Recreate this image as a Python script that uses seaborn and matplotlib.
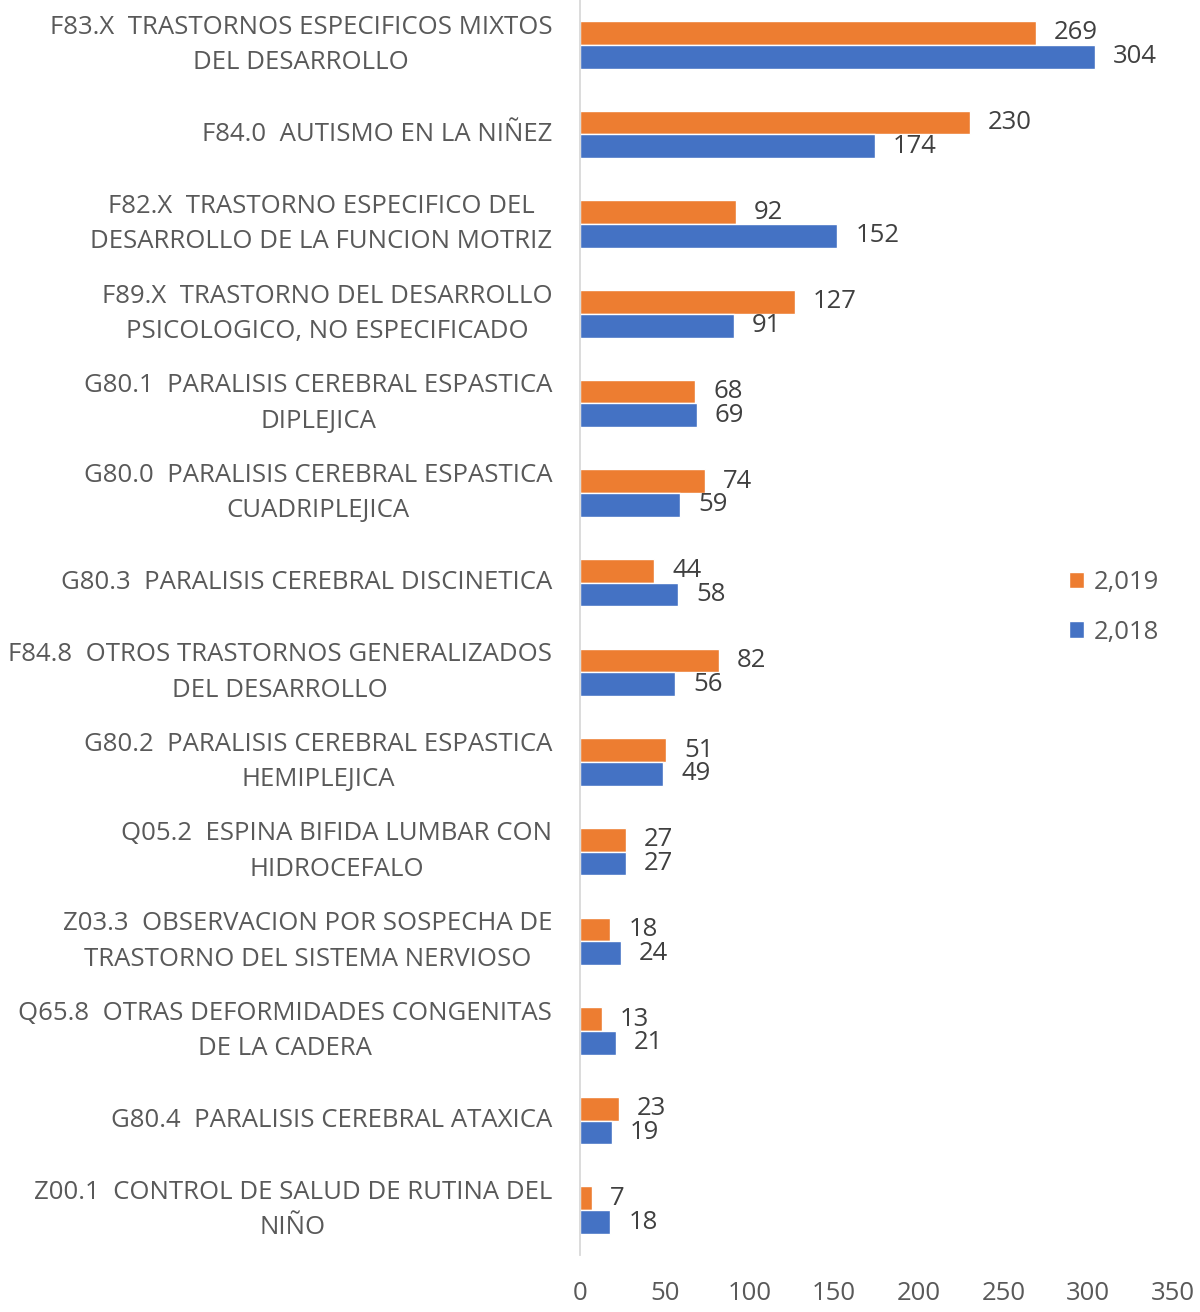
import matplotlib
matplotlib.use("Agg")
import matplotlib.pyplot as plt
import seaborn as sns
import pandas as pd

categories = [
    "F83.X  TRASTORNOS ESPECIFICOS MIXTOS\nDEL DESARROLLO",
    "F84.0  AUTISMO EN LA NIÑEZ",
    "F82.X  TRASTORNO ESPECIFICO DEL\nDESARROLLO DE LA FUNCION MOTRIZ",
    "F89.X  TRASTORNO DEL DESARROLLO\nPSICOLOGICO, NO ESPECIFICADO",
    "G80.1  PARALISIS CEREBRAL ESPASTICA\nDIPLEJICA",
    "G80.0  PARALISIS CEREBRAL ESPASTICA\nCUADRIPLEJICA",
    "G80.3  PARALISIS CEREBRAL DISCINETICA",
    "F84.8  OTROS TRASTORNOS GENERALIZADOS\nDEL DESARROLLO",
    "G80.2  PARALISIS CEREBRAL ESPASTICA\nHEMIPLEJICA",
    "Q05.2  ESPINA BIFIDA LUMBAR CON\nHIDROCEFALO",
    "Z03.3  OBSERVACION POR SOSPECHA DE\nTRASTORNO DEL SISTEMA NERVIOSO",
    "Q65.8  OTRAS DEFORMIDADES CONGENITAS\nDE LA CADERA",
    "G80.4  PARALISIS CEREBRAL ATAXICA",
    "Z00.1  CONTROL DE SALUD DE RUTINA DEL\nNIÑO",
]
values_2019 = [269, 230, 92, 127, 68, 74, 44, 82, 51, 27, 18, 13, 23, 7]
values_2018 = [304, 174, 152, 91, 69, 59, 58, 56, 49, 27, 24, 21, 19, 18]
series_names = ["2,019", "2,018"]
x_ticks = [0, 50, 100, 150, 200, 250, 300, 350]

df = pd.DataFrame({
    "cat": categories * 2,
    "val": values_2019 + values_2018,
    "year": [series_names[0]] * len(categories) + [series_names[1]] * len(categories),
})

sns.set_style("white")
plt.rcParams["font.family"] = ["Open Sans", "DejaVu Sans"]

fs = 18.5
fig = plt.figure(figsize=(12, 13.12), dpi=100)
ax = fig.add_axes([0.4833, 0.0434, 0.494, 0.9566])

sns.barplot(data=df, y="cat", x="val", hue="year", hue_order=series_names,
            palette=["#ED7D31", "#4472C4"], orient="h", width=0.53,
            order=categories, ax=ax, saturation=1, errorbar=None)

text_col = "#595959"
for cont in ax.containers:
    ax.bar_label(cont, padding=13, fontsize=fs, color="#404040")

ax.set_xlim(0, 350)
ax.set_ylim(len(categories) - 0.5, -0.5)
ax.set_xticks(x_ticks)
ax.set_xlabel("")
ax.set_ylabel("")
ax.tick_params(axis="x", length=0, pad=19, labelsize=fs, labelcolor=text_col)
ax.tick_params(axis="y", length=0, pad=20, labelsize=fs, labelcolor=text_col)
for lbl in ax.get_yticklabels():
    lbl.set_multialignment("center")
    lbl.set_linespacing(1.55)
    lbl.set_verticalalignment("center")

for s in ["top", "right", "bottom"]:
    ax.spines[s].set_visible(False)
ax.spines["left"].set_color("#D9D9D9")
ax.spines["left"].set_linewidth(1.3)

leg = ax.legend(loc="center left", bbox_to_anchor=(0.825, 0.516), frameon=False,
                fontsize=fs, handlelength=0.6, handleheight=0.6,
                handletextpad=0.35, labelspacing=0.95, borderaxespad=0, borderpad=0)
for t in leg.get_texts():
    t.set_color(text_col)

fig.savefig("out.png", dpi=100)
